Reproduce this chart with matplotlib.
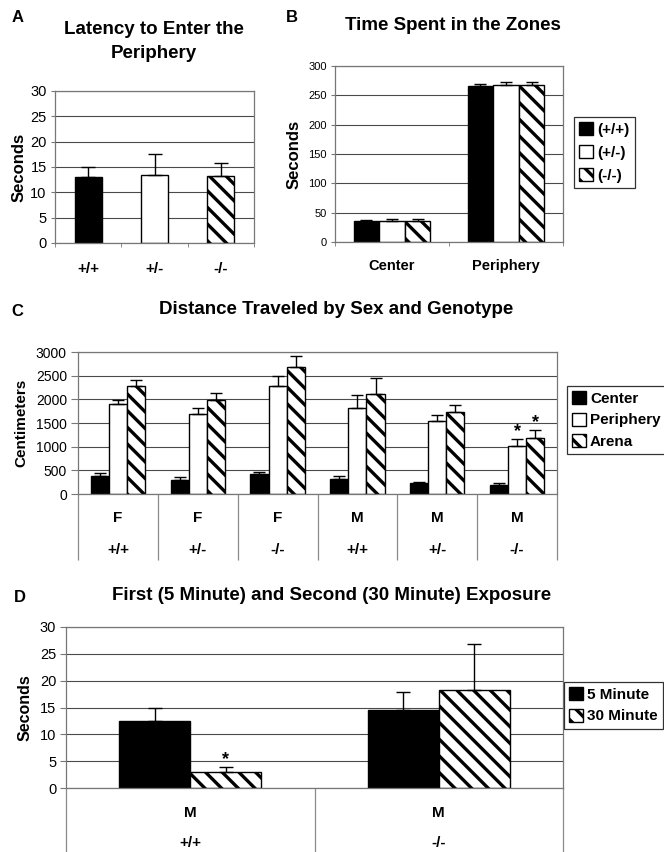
"""
open field figure: latency, zone time, distance and re-exposure
"""
# =========================================================================== #
#  SECTION: Imports
# =========================================================================== #
import matplotlib
matplotlib.use('Agg')
import matplotlib.pyplot as plt
import numpy as np
from matplotlib.patches import Patch

# =========================================================================== #
#  SECTION: Data
# =========================================================================== #
GENOTYPES = ['+/+', '+/-', '-/-']
LATENCY_MEAN = [13.0, 13.4, 13.3]
LATENCY_SEM = [2.0, 4.1, 2.4]

ZONES = ['Center', 'Periphery']
ZONE_LEGEND = ['(+/+)', '(+/-)', '(-/-)']
ZONE_TIME_WT = [36, 266]
ZONE_TIME_HET = [35, 267]
ZONE_TIME_KO = [35, 267]
ZONE_SEM_WT = [2, 4]
ZONE_SEM_HET = [5, 5]
ZONE_SEM_KO = [5, 5]

DIST_SEX = ['F', 'F', 'F', 'M', 'M', 'M']
DIST_GENOTYPE = ['+/+', '+/-', '-/-', '+/+', '+/-', '-/-']
DIST_SERIES = ['Center', 'Periphery', 'Arena']
DIST_CENTER = [388, 304, 416, 325, 226, 198]
DIST_CENTER_SEM = [50, 49, 43, 49, 21, 28]
DIST_PERIPHERY = [1900, 1680, 2273, 1815, 1532, 1024]
DIST_PERIPHERY_SEM = [84, 135, 212, 282, 127, 134]
DIST_ARENA = [2273, 1984, 2683, 2118, 1730, 1186]
DIST_ARENA_SEM = [127, 155, 225, 325, 141, 176]
DIST_SIGNIFICANT = [(5, 1), (5, 2)]  # (group, series)

EXPO_SEX = ['M', 'M']
EXPO_GENOTYPE = ['+/+', '-/-']
EXPO_SERIES = ['5 Minute', '30 Minute']
EXPO_5MIN = [12.4, 14.6]
EXPO_5MIN_SEM = [2.6, 3.2]
EXPO_30MIN = [3.0, 18.2]
EXPO_30MIN_SEM = [1.0, 8.7]
EXPO_SIGNIFICANT = [(0, 1)]

# =========================================================================== #
#  SECTION: Global definitions
# =========================================================================== #
FIG_W, FIG_H = 664, 852
DPI = 100
HATCH = '\\\\'
FILLS = [('black', None), ('white', None), ('white', HATCH)]
GRID_COLOR = '#4a4a4a'
FRAME_COLOR = '#777777'

plt.rcParams['font.family'] = ['Liberation Sans', 'DejaVu Sans']
plt.rcParams['hatch.linewidth'] = 2.4
plt.rcParams['hatch.color'] = 'black'


# =========================================================================== #
#  SECTION: Function definitions
# =========================================================================== #
def px_axes(fig, left, top, right, bottom):
    # pixel box -> figure fraction axes
    return fig.add_axes([left / FIG_W, 1 - bottom / FIG_H,
                         (right - left) / FIG_W, (bottom - top) / FIG_H])


def fig_text(fig, x, y, s, **kw):
    fig.text(x / FIG_W, 1 - y / FIG_H, s, **kw)


def style_axes(ax, ymax, ystep, ticksize, ncat):
    ax.set_ylim(0, ymax)
    ax.set_xlim(-0.5, ncat - 0.5)
    ax.set_yticks(np.arange(0, ymax + ystep / 2, ystep))
    ax.yaxis.grid(True, color=GRID_COLOR, linewidth=0.8)
    ax.set_axisbelow(True)
    for side in ax.spines.values():
        side.set_color(FRAME_COLOR)
        side.set_linewidth(0.9)
    ax.tick_params(axis='y', labelsize=ticksize, length=3, width=0.8,
                   color=FRAME_COLOR, pad=3)


def grouped_bars(ax, values, sems, width, labels=None, capsize=4,
                 fills=FILLS):
    n = len(values)
    x = np.arange(len(values[0]))
    tops = []
    for j, (vals, errs) in enumerate(zip(values, sems)):
        color, hatch = fills[j]
        pos = x + (j - (n - 1) / 2) * width
        ax.bar(pos, vals, width, color=color, hatch=hatch,
               edgecolor='black', linewidth=1.0,
               label=None if labels is None else labels[j], zorder=2)
        ax.errorbar(pos, vals, yerr=[np.zeros(len(vals)), errs],
                    fmt='none', ecolor='black', elinewidth=1.0,
                    capsize=capsize, capthick=1.0, zorder=3)
        tops.append((pos, np.array(vals) + np.array(errs)))
    return tops


def mark_significant(ax, tops, marks):
    for g, s in marks:
        pos, top = tops[s]
        ax.annotate('*', xy=(pos[g], top[g]), xytext=(0, -1),
                    textcoords='offset points', ha='center', va='bottom',
                    fontsize=13, fontweight='bold')


def two_row_labels(ax, row1, row2, off1, off2, divider_len):
    ncat = len(row1)
    ax.set_xticks(np.arange(ncat))
    ax.set_xticklabels([])
    ax.tick_params(axis='x', which='major', length=0)
    ax.set_xticks(np.arange(ncat + 1) - 0.5, minor=True)
    ax.tick_params(axis='x', which='minor', length=divider_len, width=0.9,
                   color='#8a8a8a', direction='out')
    for i, (a, b) in enumerate(zip(row1, row2)):
        for text, off in ((a, off1), (b, off2)):
            ax.annotate(text, xy=(i, 0), xycoords=('data', 'axes fraction'),
                        xytext=(0, -off), textcoords='offset points',
                        ha='center', va='center', fontsize=11,
                        fontweight='bold')


def legend_handles(labels, fills=FILLS):
    return [Patch(facecolor=c, hatch=h, edgecolor='black', linewidth=1.0,
                  label=l) for l, (c, h) in zip(labels, fills)]


def add_legend(fig, ax, labels, x, y, fontsize, fills=FILLS, spacing=0.45):
    leg = ax.legend(handles=legend_handles(labels, fills), loc='upper left',
                    bbox_to_anchor=(x / FIG_W, 1 - y / FIG_H),
                    bbox_transform=fig.transFigure,
                    prop={'weight': 'bold', 'size': fontsize},
                    frameon=True, fancybox=False, shadow=False,
                    handlelength=0.9, handleheight=0.9, handletextpad=0.25,
                    borderpad=0.35, labelspacing=spacing, borderaxespad=0)
    leg.get_frame().set_edgecolor('black')
    leg.get_frame().set_linewidth(0.9)
    return leg


# =========================================================================== #
#  SECTION: Main Body
# =========================================================================== #
if __name__ == '__main__':
    fig = plt.figure(figsize=(FIG_W / DPI, FIG_H / DPI), dpi=DPI)

    # ---- A: latency --------------------------------------------------- #
    ax_a = px_axes(fig, 55, 91, 254, 243)
    style_axes(ax_a, 30, 5, 10.5, len(GENOTYPES))
    x = np.arange(len(GENOTYPES))
    for i in range(len(GENOTYPES)):
        color, hatch = FILLS[i]
        ax_a.bar(x[i], LATENCY_MEAN[i], 0.41, color=color, hatch=hatch,
                 edgecolor='black', linewidth=1.0, zorder=2)
    ax_a.errorbar(x, LATENCY_MEAN, yerr=[np.zeros(3), LATENCY_SEM],
                  fmt='none', ecolor='black', elinewidth=1.0, capsize=5,
                  capthick=1.0, zorder=3)
    ax_a.set_xticks(x)
    ax_a.set_xticklabels(GENOTYPES, fontsize=11, fontweight='bold')
    ax_a.set_xticks(np.arange(len(GENOTYPES) + 1) - 0.5, minor=True)
    ax_a.tick_params(axis='x', which='major', length=0, pad=14)
    ax_a.tick_params(axis='x', which='minor', length=3, color=FRAME_COLOR)
    ax_a.set_ylabel('Seconds', fontsize=12, fontweight='bold', labelpad=3)
    fig_text(fig, 154, 29, 'Latency to Enter the', fontsize=13.5,
             fontweight='bold', ha='center', va='center')
    fig_text(fig, 154, 53, 'Periphery', fontsize=13.5,
             fontweight='bold', ha='center', va='center')
    fig_text(fig, 18, 18, 'A', fontsize=12, fontweight='bold',
             ha='center', va='center')

    # ---- B: time in zones -------------------------------------------- #
    ax_b = px_axes(fig, 335, 66, 563, 242)
    style_axes(ax_b, 300, 50, 8, len(ZONES))
    grouped_bars(ax_b, [ZONE_TIME_WT, ZONE_TIME_HET, ZONE_TIME_KO],
                 [ZONE_SEM_WT, ZONE_SEM_HET, ZONE_SEM_KO], 0.225,
                 labels=ZONE_LEGEND, capsize=4)
    ax_b.set_xticks(np.arange(len(ZONES)))
    ax_b.set_xticklabels(ZONES, fontsize=10.5, fontweight='bold')
    ax_b.set_xticks(np.arange(len(ZONES) + 1) - 0.5, minor=True)
    ax_b.tick_params(axis='x', which='major', length=0, pad=12)
    ax_b.tick_params(axis='x', which='minor', length=3, color=FRAME_COLOR)
    ax_b.set_ylabel('Seconds', fontsize=12, fontweight='bold', labelpad=5)
    fig_text(fig, 453, 25, 'Time Spent in the Zones', fontsize=13.5,
             fontweight='bold', ha='center', va='center')
    add_legend(fig, ax_b, ZONE_LEGEND, 574, 117, 11, spacing=0.55)
    fig_text(fig, 292, 18, 'B', fontsize=12, fontweight='bold',
             ha='center', va='center')

    # ---- C: distance traveled ---------------------------------------- #
    ax_c = px_axes(fig, 78, 352, 557, 494)
    style_axes(ax_c, 3000, 500, 10, len(DIST_SEX))
    tops_c = grouped_bars(ax_c, [DIST_CENTER, DIST_PERIPHERY, DIST_ARENA],
                          [DIST_CENTER_SEM, DIST_PERIPHERY_SEM,
                           DIST_ARENA_SEM], 0.227, labels=DIST_SERIES,
                          capsize=4)
    mark_significant(ax_c, tops_c, DIST_SIGNIFICANT)
    two_row_labels(ax_c, DIST_SEX, DIST_GENOTYPE, 17.5, 40.5, 47.5)
    ax_c.tick_params(axis='y', length=5)
    ax_c.set_ylabel('Centimeters', fontsize=11, fontweight='bold',
                    labelpad=5)
    add_legend(fig, ax_c, DIST_SERIES, 567, 386, 11)
    fig_text(fig, 336, 309, 'Distance Traveled by Sex and Genotype',
             fontsize=13.5, fontweight='bold', ha='center', va='center')
    fig_text(fig, 17, 312, 'C', fontsize=12, fontweight='bold',
             ha='center', va='center')

    # ---- D: exposure -------------------------------------------------- #
    ax_d = px_axes(fig, 66, 627, 563, 788)
    style_axes(ax_d, 30, 5, 10.5, len(EXPO_SEX))
    fills_d = [FILLS[0], FILLS[2]]
    tops_d = grouped_bars(ax_d, [EXPO_5MIN, EXPO_30MIN],
                          [EXPO_5MIN_SEM, EXPO_30MIN_SEM], 0.286,
                          labels=EXPO_SERIES, capsize=5, fills=fills_d)
    mark_significant(ax_d, tops_d, EXPO_SIGNIFICANT)
    two_row_labels(ax_d, EXPO_SEX, EXPO_GENOTYPE, 18, 39.5, 47)
    ax_d.tick_params(axis='y', length=4)
    ax_d.set_ylabel('Seconds', fontsize=11.5, fontweight='bold', labelpad=5)
    add_legend(fig, ax_d, EXPO_SERIES, 564, 682, 11, fills=fills_d)
    fig_text(fig, 332, 596,
             'First (5 Minute) and Second (30 Minute) Exposure',
             fontsize=13.5, fontweight='bold', ha='center', va='center')
    fig_text(fig, 20, 597, 'D', fontsize=12, fontweight='bold',
             ha='center', va='center')

    fig.savefig('out.png', dpi=DPI)
